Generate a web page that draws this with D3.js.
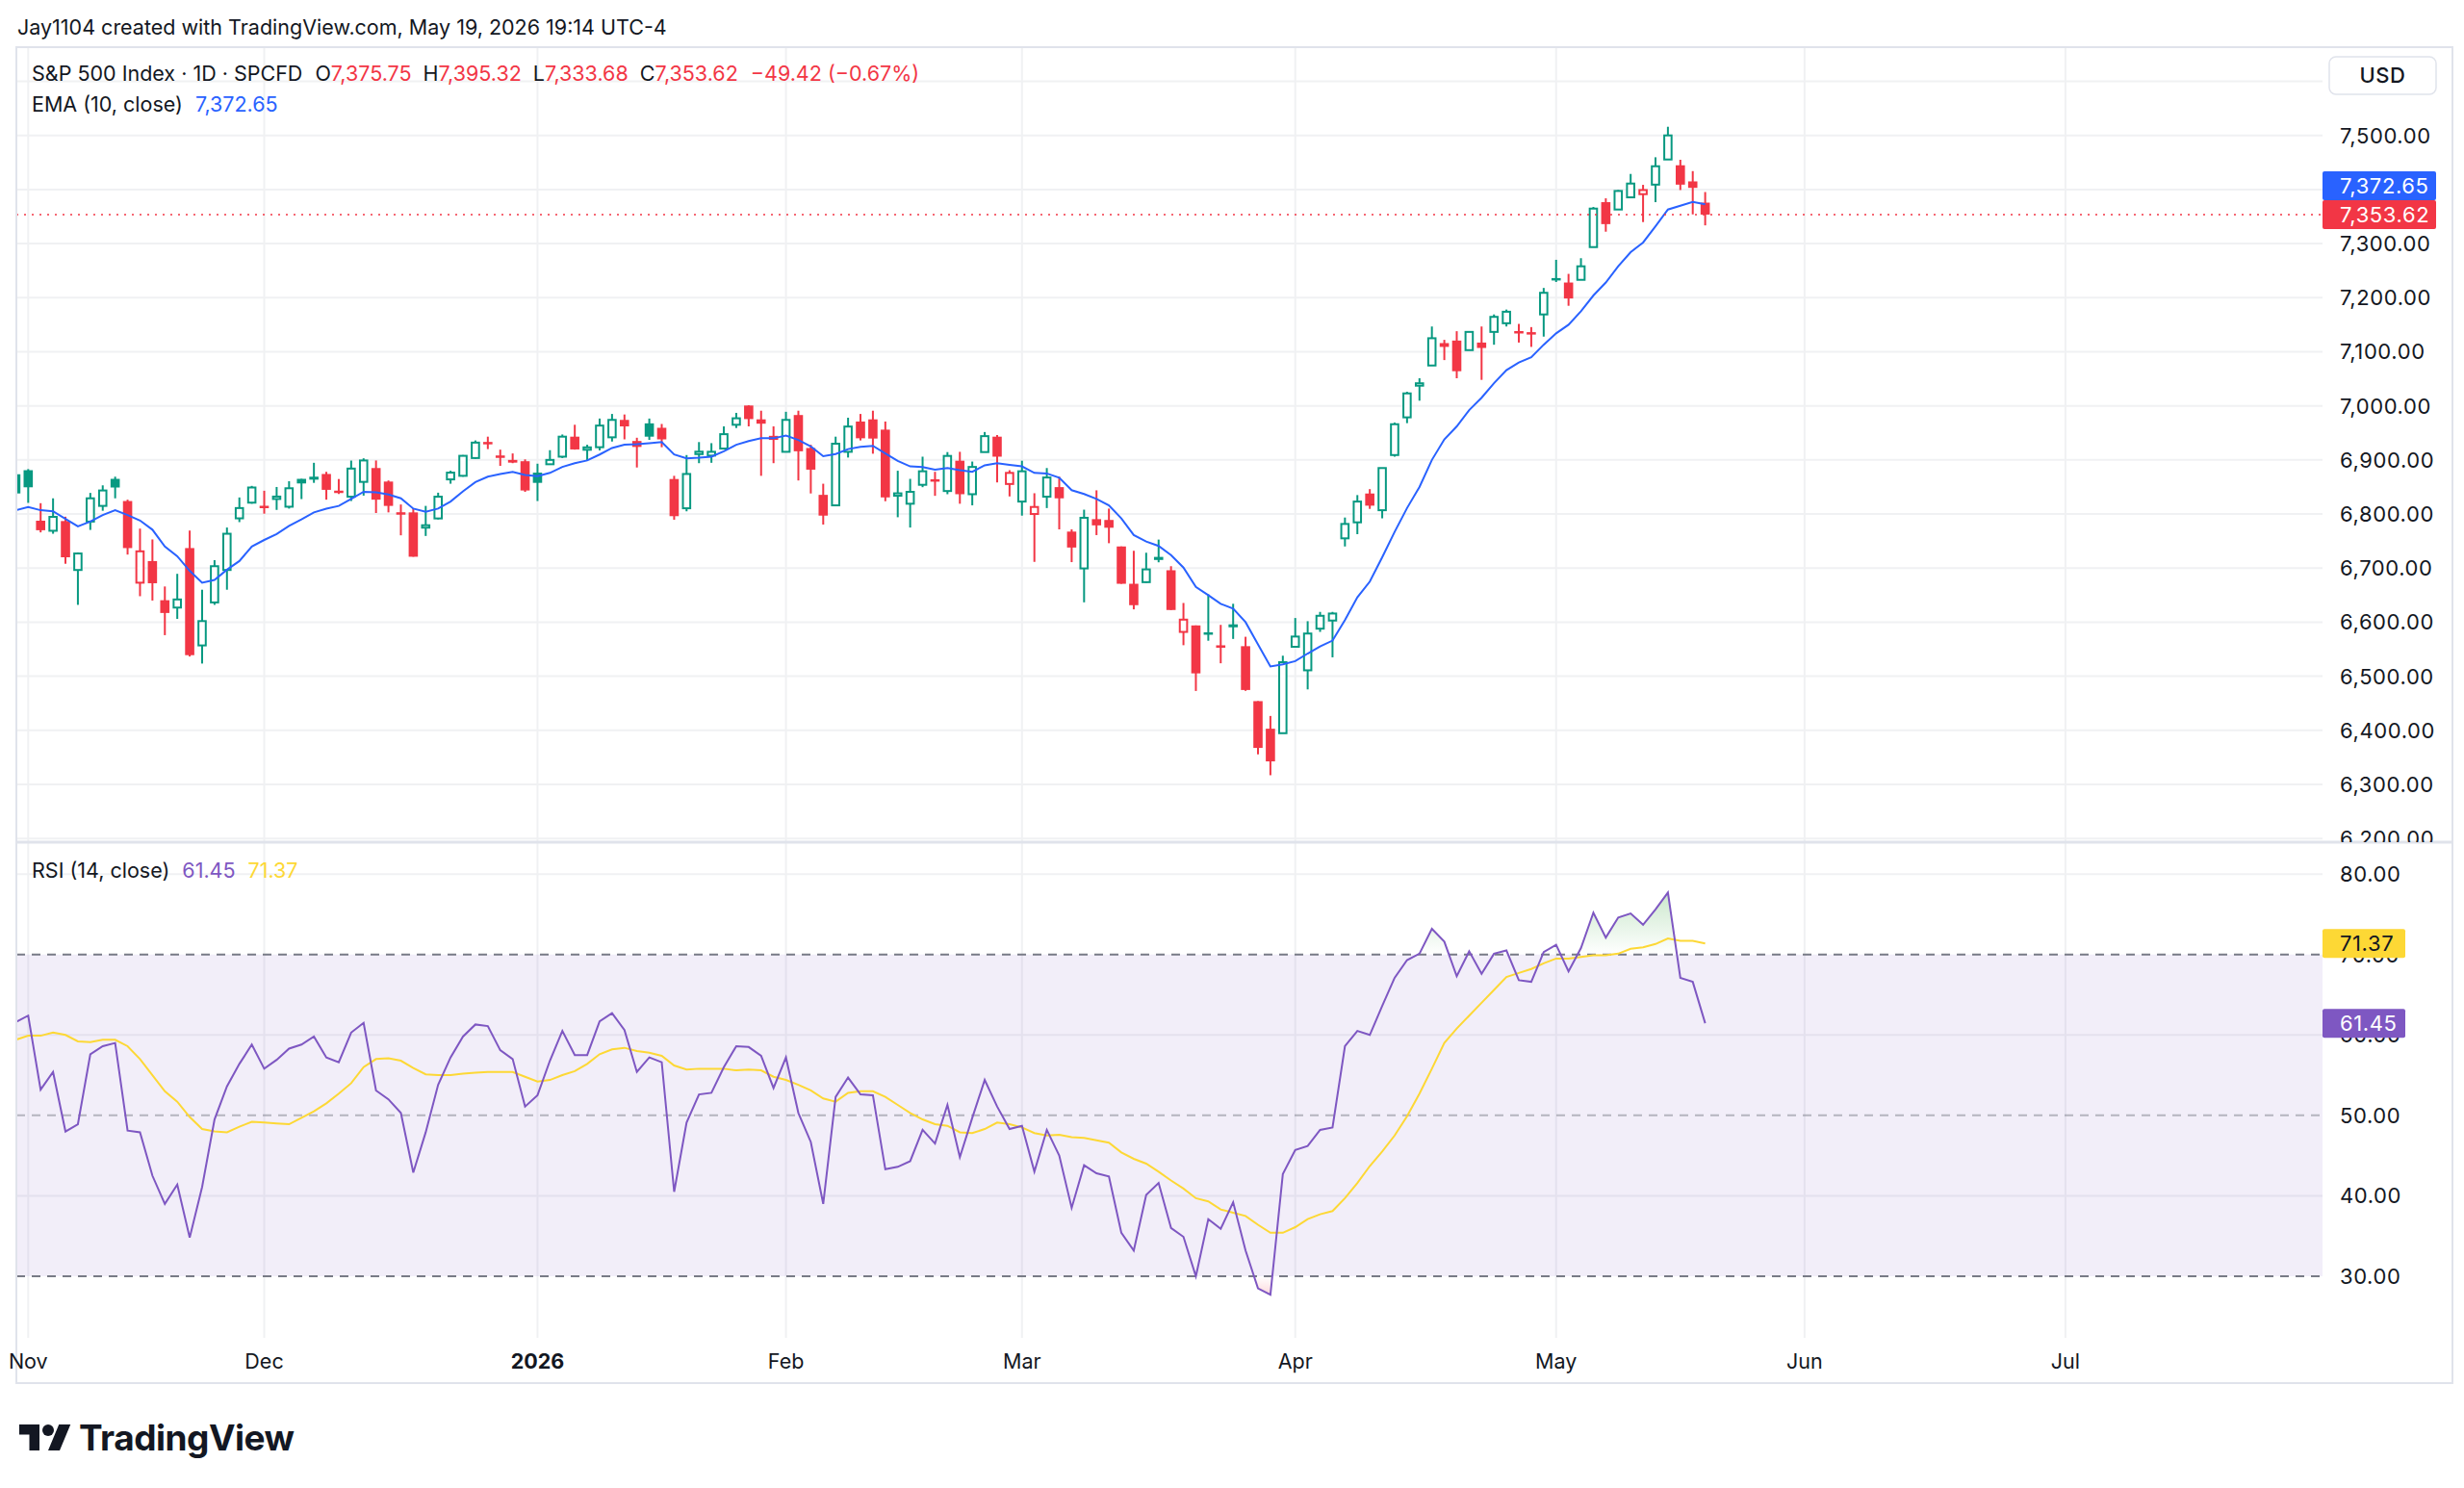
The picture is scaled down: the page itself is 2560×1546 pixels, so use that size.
<!DOCTYPE html>
<html>
<head>
<meta charset="utf-8">
<script src="https://cdn.jsdelivr.net/npm/d3@7"></script>
<style>
  body { margin: 0; background: #fff; }
  svg { display: block; }
  text { font-family: Inter, "Noto Sans", sans-serif; fill: #131722; }
</style>
</head>
<body>
<svg id="chart"></svg>
<script>
// S&P 500 daily candles, Oct 31 2025 .. May 19 2026
const opens = [6873.5,6881,6787.6,6769,6787,6696.5,6786,6815,6865,6824,6673,6713,6640.6,6627,6737,6557,6636.5,6696.5,6792,6821,
  6813,6829,6813.5,6865,6869,6874,6841,6832,6859.4,6885,6860,6801,6803,6776,6791.8,6864,6870.6,6903.5,6931,6906,6900,6897.6,
  6876.5,6892,6906,6943,6919,6923.5,6941.8,6974,6935,6967.6,6959.4,6864.7,6810.6,6912,6908,6921,6965,7000.6,6975,6944.5,
  6915,6983,6922,6835.4,6816,6915,6971,6975,6956,6835,6819,6854,6862,6842.5,6898.5,6836.6,6914.5,6943,6855.5,
  6823,6800,6832,6849.7,6767.5,6699.4,6790.5,6789,6740,6671,6674,6720.7,6696,6582,6594,6579,6555,6596,6555.6,6454,6403,6394.7,
  6554.5,6511,6588,6603,6755,6784.6,6837.9,6807,6909,6978.7,7038.5,7074.6,7116,7120.7,7103,7117,7136.7,7152.7,7136,7134,7169,
  7234,7228,7233,7293.5,7376.6,7363,7385.5,7391.4,7409,7455.5,7444.8,7415,7375.75];
const highs = [6876,6883,6820,6829,6795,6729,6839,6853,6869,6826.5,6773,6753,6666,6689.4,6769.4,6660,6714.7,6775,6830.6,6852,
  6843,6850,6860.6,6865,6894.7,6878,6864.7,6898.8,6903,6899,6862,6817.6,6810.6,6815,6839.4,6880,6909,6936,6943,6919,6912,6901,
  6893,6918,6947,6965,6928,6976.5,6985,6984,6941,6976.5,6966.5,6870.6,6909,6933,6931,6962,6987,7001,6991,6962,
  6989,6991,6928,6856,6943,6978,6985,6991,6971,6880,6865,6906,6878,6914.5,6915,6897,6951.6,6946,6881,
  6898.5,6838.4,6885,6869,6771.6,6808,6843.8,6810,6740,6732,6728.4,6752.7,6703.5,6635.5,6594,6651.5,6595,6634,6573,6454,6426.6,6538,
  6607.7,6601.8,6619,6619,6793.5,6835,6846,6885,6969,7026,7051,7146.7,7122,7138,7137,7146.7,7169,7178,7151.5,7145.6,7218,
  7270,7244,7273,7367.7,7383.7,7399,7428.8,7408.6,7459.6,7516,7455,7434,7395.32];
const lows = [6835,6820.6,6766,6763.5,6708,6632,6770.6,6806,6829,6725,6648,6640,6576,6606,6536.5,6523.5,6632,6660,6785,6819,
  6800.6,6807.6,6810,6827.6,6857.6,6826.5,6837,6824,6834,6801.8,6803,6760.6,6721,6759.4,6790,6856,6869,6902,6920,6889,6894,6841,
  6824,6891.8,6903.5,6919,6899,6917.6,6934,6938,6886,6937,6923.5,6789.4,6805,6894,6894.7,6919.4,6959,6962,6870.6,6894,
  6915,6862,6838,6780.5,6815,6904.4,6936,6911.5,6823.6,6794,6775,6849.6,6833.6,6836.6,6819,6816,6914.5,6858.4,6832.5,
  6797,6711.5,6811,6771.6,6711,6636.7,6761,6746,6671,6623.7,6673,6710.7,6622.5,6557.4,6472.8,6565.7,6524,6569,6473,6355.6,6317,6394.7,
  6554.5,6475.7,6582,6535,6740,6762.7,6809.5,6792,6906,6968,7009.5,7074.6,7084.6,7051,7103,7048,7113,7146.7,7117,7109,7128,
  7229,7185,7233,7293.5,7322,7363,7385.5,7339.8,7376.6,7455.5,7399,7354,7333.68];
const closes = [6838,6849.4,6770,6794.7,6720,6727,6829,6843.5,6849,6737,6731,6672,6617,6642,6539,6602,6703.5,6763.5,6811,6849,
  6812,6830,6847.6,6856.5,6863.5,6844.7,6840,6884,6899,6826.5,6815,6800,6721,6777,6832,6876.5,6907.6,6932,6929.5,6905,6895,6843.5,
  6857.6,6900,6943,6919.4,6921,6963.5,6974,6962,6924,6943,6938,6796,6874,6913,6915,6947.6,6977,6975.5,6967,6937,
  6974,6916,6882,6797,6930,6961.7,6940,6939.5,6830.7,6836,6841,6879,6861,6907.4,6836.6,6887,6944,6906,6876,
  6879,6813,6867.5,6829,6738,6793,6779,6774.6,6671,6631.4,6697.6,6715,6622.5,6604.7,6505.3,6577.5,6554,6590.5,6474.6,6367.5,6342.6,6526,
  6573.4,6579,6611.8,6616,6781.6,6823,6815.4,6885,6966,7023,7039.5,7125,7109,7064,7136.7,7107,7164.5,7174,7135.5,7133.7,7209,
  7229.6,7198.5,7258,7364.7,7336,7397.3,7411,7399,7443,7500,7409,7403.04,7353.62];
const prevClose = 6822; // close of the bar before the first one shown

const ema10 = [6807,6813,6807,6805,6791,6777,6786,6798,6807,6798,6788,6771,6740,6722,6695,6673,6678,6697,6713,6740,
  6752,6763,6778,6790,6803,6810,6815,6828,6841,6840,6836,6829,6810,6804,6810,6823,6842,6859,6869,6874,6878,6872,
  6870,6876,6887,6894,6899,6910,6922,6928,6929,6931,6933,6910,6903,6904,6906,6916,6928,6935,6940,6940,
  6945,6937,6925,6907,6911,6920,6924,6926,6912,6898,6888,6887,6882,6885,6881,6878,6890,6894,6891,
  6888,6876,6875,6867,6844,6837,6828,6816,6792,6761,6749,6741,6724,6701,6665,6650,6634,6625,6600,6559,6518,6522,
  6528,6542,6555,6566,6604,6646,6675,6720,6767,6811,6850,6900,6938,6962,6992,7015,7042,7066,7080,7090,7113,
  7134,7150,7175,7204,7228,7258,7284,7302,7332,7363,7370,7377,7372.65];

const rsi14 = [61.6,62.4,53.2,55.4,48.0,48.9,57.6,58.6,59.0,48.1,47.9,42.5,39.0,41.4,34.8,41.1,49.5,53.6,56.4,58.8,
  55.8,56.9,58.3,58.8,59.8,57.2,56.6,60.3,61.5,53.1,52.0,50.3,42.9,47.9,53.8,57.2,59.8,61.3,61.1,58.1,57.0,51.1,
  52.5,56.8,60.5,57.5,57.5,61.7,62.7,60.6,55.4,57.2,56.6,40.5,49.1,52.6,52.8,56.0,58.6,58.5,57.4,53.4,
  57.2,50.3,46.7,39.0,52.3,54.7,52.6,52.5,43.3,43.6,44.3,48.2,46.5,51.3,44.8,49.7,54.4,51.1,48.3,
  48.7,43.0,48.2,45.0,38.5,43.8,42.8,42.4,35.4,33.2,40.1,41.6,36.0,34.9,30.0,37.1,35.9,39.2,33.2,28.5,27.7,42.7,
  45.7,46.2,48.2,48.5,58.6,60.5,60.0,63.6,67.1,69.3,70.1,73.2,71.6,67.3,70.4,67.6,70.1,70.5,66.8,66.6,70.3,
  71.2,67.9,70.8,75.2,72.1,74.6,75.1,73.7,75.6,77.7,67.1,66.6,61.45];
const rsiMa = [59.4,59.9,59.9,60.3,60.0,59.2,59.1,59.4,59.4,58.6,57.0,55.0,53.0,51.7,49.8,48.3,48.0,47.9,48.6,49.2,
  49.1,49.0,48.9,49.7,50.5,51.5,52.7,54.0,56.0,57.0,57.1,56.8,55.9,55.1,55.0,55.0,55.2,55.3,55.4,55.4,55.4,54.8,
  54.2,54.4,55.0,55.5,56.4,57.6,58.2,58.4,58.0,57.8,57.4,56.2,55.7,55.8,55.8,55.8,55.6,55.7,55.6,54.8,
  54.4,53.8,53.1,52.1,51.7,52.8,53.0,53.0,52.3,51.3,50.3,49.5,48.9,48.7,47.9,47.8,48.3,49.1,48.9,
  48.5,47.8,47.5,47.6,47.3,47.2,46.9,46.6,45.4,44.6,44.0,43.0,41.9,40.9,39.7,39.3,38.3,37.9,37.5,36.4,35.4,35.4,
  36.1,37.1,37.7,38.1,39.7,41.6,43.7,45.5,47.5,49.9,52.7,55.8,59.0,60.8,62.4,64.0,65.6,67.2,67.7,68.2,68.9,
  69.5,69.5,69.7,69.9,69.9,70.1,70.7,70.9,71.3,72.0,71.7,71.7,71.37];

const priceTicks = [6200,6300,6400,6500,6600,6700,6800,6900,7000,7100,7200,7300,7400,7500,7600];
const rsiGrid = [40,60,80];
const rsiLabels = [30,40,50,60,70,80];
const monthLabels = ["Nov","Dec","2026","Feb","Mar","Apr","May","Jun","Jul"];
const monthBars = [1,20,42,62,81,103,124,144,165];

const GREEN = "#089981", RED = "#F23645", BLUE = "#2962FF", PURPLE = "#7E57C2", YELLOW = "#FDD835";
const INK = "#131722", GRID = "#f0f1f3", BORDER = "#e0e3eb";

const W = 2560, H = 1546;
const frameL = 17, frameR = 2548, frameT = 49, frameB = 1437;
const plotRight = 2413, mainBottom = 875, rsiBottom = 1390;
const usdBox = { x: 2420, y: 59, w: 111, h: 39 };
const FS = 21.5, AXFS = 22;

const svg = d3.select("#chart").attr("width", W).attr("height", H);
svg.append("rect").attr("width", W).attr("height", H).attr("fill", "#fff");

const x = d3.scaleLinear().domain([0, 136]).range([16.4, 16.4 + 136 * 12.906]);
const y = d3.scaleLinear().domain([6300, 7500]).range([815, 140.7]);
const yR = d3.scaleLinear().domain([30, 70]).range([1326, 991.7]);
const fmt = d3.format(",.2f");

const defs = svg.append("defs");
defs.append("clipPath").attr("id", "clipMain").append("rect")
  .attr("x", frameL).attr("y", frameT).attr("width", plotRight - frameL).attr("height", mainBottom - frameT);
defs.append("clipPath").attr("id", "clipRsi").append("rect")
  .attr("x", frameL).attr("y", mainBottom).attr("width", plotRight - frameL).attr("height", rsiBottom - mainBottom);
defs.append("clipPath").attr("id", "clipAxis").append("rect")
  .attr("x", plotRight).attr("y", frameT).attr("width", frameR - plotRight).attr("height", mainBottom - frameT);
defs.append("clipPath").attr("id", "clipOb").append("rect")
  .attr("x", frameL).attr("y", mainBottom).attr("width", plotRight - frameL).attr("height", yR(70) - mainBottom);
defs.append("clipPath").attr("id", "clipOs").append("rect")
  .attr("x", frameL).attr("y", yR(30)).attr("width", plotRight - frameL).attr("height", rsiBottom - yR(30));

const gOb = defs.append("linearGradient").attr("id", "gradOb")
  .attr("gradientUnits", "userSpaceOnUse").attr("x1", 0).attr("x2", 0).attr("y1", yR(78)).attr("y2", yR(70));
gOb.append("stop").attr("offset", 0).attr("stop-color", "#4caf50").attr("stop-opacity", 0.3);
gOb.append("stop").attr("offset", 1).attr("stop-color", "#4caf50").attr("stop-opacity", 0);
const gOs = defs.append("linearGradient").attr("id", "gradOs")
  .attr("gradientUnits", "userSpaceOnUse").attr("x1", 0).attr("x2", 0).attr("y1", yR(30)).attr("y2", yR(27));
gOs.append("stop").attr("offset", 0).attr("stop-color", "#f23645").attr("stop-opacity", 0);
gOs.append("stop").attr("offset", 1).attr("stop-color", "#f23645").attr("stop-opacity", 0.25);

// header
svg.append("text").attr("x", 18).attr("y", 36).attr("font-size", FS)
  .text("Jay1104 created with TradingView.com, May 19, 2026 19:14 UTC-4");

// grid
const grid = svg.append("g");
grid.selectAll(".vg").data(monthBars).enter().append("line")
  .attr("x1", d => x(d)).attr("x2", d => x(d)).attr("y1", frameT).attr("y2", rsiBottom)
  .attr("stroke", GRID).attr("stroke-width", 2);
grid.selectAll(".hg").data(priceTicks).enter().append("line")
  .attr("x1", frameL).attr("x2", plotRight).attr("y1", d => y(d)).attr("y2", d => y(d))
  .attr("stroke", GRID).attr("stroke-width", 2).attr("clip-path", "url(#clipMain)");

// RSI band
svg.append("rect").attr("x", frameL).attr("width", plotRight - frameL)
  .attr("y", yR(70)).attr("height", yR(30) - yR(70)).attr("fill", PURPLE).attr("fill-opacity", 0.1);
grid.selectAll(".rg").data(rsiGrid).enter().append("line")
  .attr("x1", frameL).attr("x2", plotRight).attr("y1", d => yR(d)).attr("y2", d => yR(d))
  .attr("stroke", GRID).attr("stroke-width", 2);
[70, 50, 30].forEach(v => {
  svg.append("line").attr("x1", frameL).attr("x2", plotRight).attr("y1", yR(v)).attr("y2", yR(v))
    .attr("stroke", "#787B86").attr("stroke-width", 2).attr("stroke-dasharray", "9 7")
    .attr("stroke-opacity", v === 50 ? 0.5 : 1);
});

// candles
const candles = svg.append("g").attr("clip-path", "url(#clipMain)");
const bars = closes.map((c, i) => ({
  i, o: opens[i], h: highs[i], l: lows[i], c,
  up: c >= (i === 0 ? prevClose : closes[i - 1])
}));
const cg = candles.selectAll(".c").data(bars).enter().append("g");
cg.append("line")
  .attr("x1", d => x(d.i)).attr("x2", d => x(d.i))
  .attr("y1", d => y(d.h)).attr("y2", d => y(d.l))
  .attr("stroke", d => d.up ? GREEN : RED).attr("stroke-width", 2);
cg.append("rect")
  .attr("x", d => x(d.i) - (d.c > d.o ? 3.8 : 4.8))
  .attr("width", d => d.c > d.o ? 7.6 : 9.6)
  .attr("y", d => y(Math.max(d.o, d.c)) - (Math.abs(y(d.o) - y(d.c)) < 2.5 ? 1.25 : 0))
  .attr("height", d => Math.max(Math.abs(y(d.o) - y(d.c)), 2.5))
  .attr("fill", d => d.c > d.o ? "#fff" : (d.up ? GREEN : RED))
  .attr("stroke", d => d.c > d.o ? (d.up ? GREEN : RED) : "none")
  .attr("stroke-width", 2);

// EMA
candles.append("path").datum(ema10)
  .attr("fill", "none").attr("stroke", BLUE).attr("stroke-width", 2)
  .attr("d", d3.line().x((d, i) => x(i)).y(d => y(d)));

// last close dotted line
const last = closes.length - 1;
svg.append("line").attr("x1", frameL).attr("x2", plotRight)
  .attr("y1", y(closes[last])).attr("y2", y(closes[last]))
  .attr("stroke", RED).attr("stroke-width", 1.6).attr("stroke-dasharray", "2 6");

// RSI fills and lines
const rsiG = svg.append("g").attr("clip-path", "url(#clipRsi)");
rsiG.append("path").datum(rsi14).attr("clip-path", "url(#clipOb)")
  .attr("fill", "url(#gradOb)")
  .attr("d", d3.area().x((d, i) => x(i)).y0(yR(70)).y1(d => yR(d)));
rsiG.append("path").datum(rsi14).attr("clip-path", "url(#clipOs)")
  .attr("fill", "url(#gradOs)")
  .attr("d", d3.area().x((d, i) => x(i)).y0(yR(30)).y1(d => yR(d)));
rsiG.append("path").datum(rsiMa)
  .attr("fill", "none").attr("stroke", YELLOW).attr("stroke-width", 2)
  .attr("d", d3.line().x((d, i) => x(i)).y(d => yR(d)));
rsiG.append("path").datum(rsi14)
  .attr("fill", "none").attr("stroke", PURPLE).attr("stroke-width", 2)
  .attr("d", d3.line().x((d, i) => x(i)).y(d => yR(d)));

// frame and separators
svg.append("rect").attr("x", frameL).attr("y", frameT).attr("width", frameR - frameL).attr("height", frameB - frameT)
  .attr("fill", "none").attr("stroke", BORDER).attr("stroke-width", 2);
svg.append("line").attr("x1", frameL).attr("x2", frameR).attr("y1", mainBottom).attr("y2", mainBottom)
  .attr("stroke", BORDER).attr("stroke-width", 3);

// price axis (the label under the USD button stays hidden)
const axisG = svg.append("g").attr("clip-path", "url(#clipAxis)");
axisG.selectAll("text").data(priceTicks.filter(d => y(d) > usdBox.y + usdBox.h + 8)).enter().append("text")
  .attr("x", 2431).attr("y", d => y(d) + 8).attr("font-size", AXFS).attr("letter-spacing", 0.6)
  .text(d => fmt(d));
// USD button
svg.append("rect").attr("x", usdBox.x).attr("y", usdBox.y).attr("width", usdBox.w).attr("height", usdBox.h).attr("rx", 7)
  .attr("fill", "#fff").attr("stroke", BORDER).attr("stroke-width", 1.5);
svg.append("text").attr("x", usdBox.x + usdBox.w / 2).attr("y", 86).attr("text-anchor", "middle").attr("font-size", AXFS)
  .attr("font-weight", 500).attr("letter-spacing", 0.6).text("USD");

// last value badges
const closeY = y(closes[last]);
svg.append("rect").attr("x", plotRight).attr("y", closeY - 15).attr("width", 118).attr("height", 30).attr("rx", 2)
  .attr("fill", RED);
svg.append("text").attr("x", 2431).attr("y", closeY + 8).attr("font-size", AXFS).attr("letter-spacing", 0.6)
  .style("fill", "#fff").text(fmt(closes[last]));
const emaY = Math.min(y(ema10[last]), closeY - 30);
svg.append("rect").attr("x", plotRight).attr("y", emaY - 15).attr("width", 118).attr("height", 30).attr("rx", 2)
  .attr("fill", BLUE);
svg.append("text").attr("x", 2431).attr("y", emaY + 8).attr("font-size", AXFS).attr("letter-spacing", 0.6)
  .style("fill", "#fff").text(fmt(ema10[last]));

// RSI axis
svg.selectAll(".rl").data(rsiLabels).enter().append("text")
  .attr("x", 2431).attr("y", d => yR(d) + 8).attr("font-size", AXFS).attr("letter-spacing", 0.6)
  .text(d => d3.format(".2f")(d));
[[rsiMa[last], YELLOW, INK], [rsi14[last], PURPLE, "#fff"]].forEach(([v, bg, fg]) => {
  svg.append("rect").attr("x", plotRight).attr("y", yR(v) - 15).attr("width", 86).attr("height", 30).attr("rx", 2)
    .attr("fill", bg);
  svg.append("text").attr("x", 2431).attr("y", yR(v) + 8).attr("font-size", AXFS).attr("letter-spacing", 0.6)
    .style("fill", fg).text(d3.format(".2f")(v));
});

// time axis
svg.selectAll(".tl").data(monthLabels).enter().append("text")
  .attr("x", (d, i) => x(monthBars[i])).attr("y", 1422).attr("text-anchor", "middle")
  .attr("font-size", FS).attr("font-weight", d => d === "2026" ? 700 : 400)
  .text(d => d);

// legends
function legend(yPos, parts) {
  const t = svg.append("text").attr("x", 33).attr("y", yPos).attr("font-size", FS);
  parts.forEach(([s, c, dx]) => t.append("tspan").attr("dx", dx || 0).style("fill", c).text(s));
}
const chg = closes[last] - closes[last - 1];
legend(84, [
  ["S&P 500 Index · 1D · SPCFD", INK],
  ["O", INK, 13], [fmt(opens[last]), RED],
  ["H", INK, 12], [fmt(highs[last]), RED],
  ["L", INK, 12], [fmt(lows[last]), RED],
  ["C", INK, 12], [fmt(closes[last]), RED],
  ["\u2212" + d3.format(".2f")(Math.abs(chg)) + " (\u2212" + d3.format(".2f")(Math.abs(chg) / closes[last - 1] * 100) + "%)", RED, 13]
]);
legend(116, [["EMA (10, close)", INK], [fmt(ema10[last]), BLUE, 13]]);
legend(912, [["RSI (14, close)", INK], [d3.format(".2f")(rsi14[last]), PURPLE, 13], [d3.format(".2f")(rsiMa[last]), YELLOW, 13]]);

// TradingView logo
const logo = svg.append("g").attr("transform", "translate(20,1474) scale(1.5)");
logo.append("path").attr("d", "M14 22H7V11H0V4h14v18zM28 22h-8l7.5-18h8L28 22z").attr("fill", INK);
logo.append("circle").attr("cx", 20).attr("cy", 8).attr("r", 4).attr("fill", INK);
svg.append("text").attr("x", 82).attr("y", 1507).attr("font-size", 37).attr("font-weight", 700)
  .attr("letter-spacing", -0.5).text("TradingView");
</script>
</body>
</html>
